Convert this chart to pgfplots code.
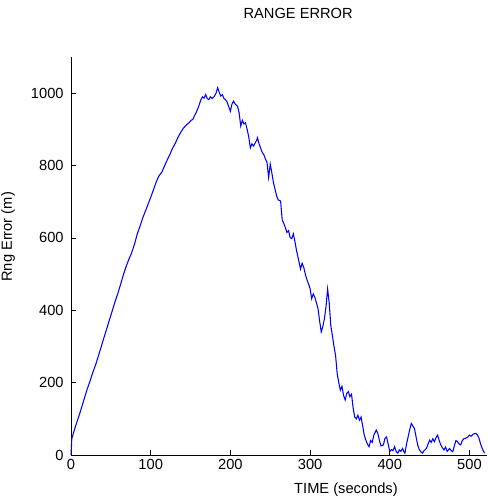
\documentclass[border=0pt]{standalone}
\usepackage{fontspec}
\setmainfont{Liberation Sans}
\usepackage{pgfplots}
\pgfplotsset{compat=1.18}

\pgfplotstableread{
t y
0 0
0.5 22
1 45
3 60
6 82
10 108
13 129
17 158
20 180
24 205
27 226
31 250
34 271
38 300
41 322
45 350
48 372
52 400
55 422
59 448
62 470
66 500
69 520
73 543
76 558
80 585
83 610
87 635
90 655
93 672
96 689
100 712
103 730
107 755
110 770
114 782
117 797
120 812
124 830
127 846
131 862
134 877
138 893
141 903
145 913
148 918
151 925
153 928
155 938
157 946
160 962
163 982
165 990
167 986
169 996
171 985
173 982
175 990
177 985
180 992
182 1000
184 1015
186 1002
188 992
190 996
192 985
194 982
196 975
198 962
200 950
202 970
204 978
206 970
209 964
211 945
213 909
215 925
217 915
219 918
221 900
223 880
225 849
227 860
229 854
231 862
233 870
234 877
236 860
238 848
240 836
242 830
244 818
246 808
248 767
250 804
252 780
254 753
256 735
258 716
260 705
263 702
265 650
267 640
269 628
271 615
273 620
275 601
277 598
279 611
281 590
283 565
285 545
288 514
290 530
292 519
294 500
296 485
298 473
300 460
302 432
304 445
306 436
308 420
310 404
312 370
314 340
316 355
318 377
320 410
322 459
324 420
326 358
328 330
330 300
332 275
334 225
336 200
338 179
340 190
342 165
344 152
346 170
348 175
350 161
352 168
354 130
356 105
358 100
360 110
362 96
364 105
366 80
368 55
370 41
372 30
374 23
376 40
378 35
380 55
383 69
385 60
387 40
389 25
392 28
394 46
396 50
398 30
400 9
402 15
404 12
406 23
408 10
410 5
412 14
414 10
416 18
418 8
419 5
421 30
423 50
425 70
427 87
429 80
431 73
433 50
435 28
437 15
439 9
441 5
443 12
446 18
448 30
450 41
452 35
454 45
456 37
458 48
460 55
462 40
464 28
466 20
468 14
470 22
472 10
475 18
477 12
479 9
481 25
483 40
485 37
487 30
489 28
491 40
493 45
495 46
498 50
500 55
502 52
505 58
508 60
510 55
512 46
514 30
516 18
518 9
519 5
}\rangeerr

\begin{document}
\begin{tikzpicture}
\begin{axis}[
  scale only axis,
  width=312pt, height=298.5pt,
  xmin=0, xmax=522, ymin=0, ymax=1100,
  axis lines=left,
  axis line style={-, line width=0.6pt},
  tick align=inside,
  major tick length=3.5pt,
  tick style={black, line width=0.6pt},
  xtick={0,100,...,500},
  ytick={0,200,...,1000},
  font=\fontsize{11}{13}\selectfont,
  ticklabel style={font=\fontsize{11}{13}\selectfont},
  /pgf/number format/assume math mode=true,
  /pgf/number format/1000 sep={},
  yticklabel style={xshift=-2pt},
  title={RANGE ERROR},
  title style={at={(axis description cs:0.546,1)}, anchor=center, yshift=27pt},
  xlabel={TIME (seconds)},
  xlabel style={at={(axis description cs:0.661,0)}, anchor=center, yshift=-26.25pt},
  clip=false,
]
\addplot[blue, line width=0.8pt] table[x=t, y=y] {\rangeerr};
\node[rotate=90, anchor=center, font=\fontsize{11}{13}\selectfont]
  at (rel axis cs:-0.1514,0.548) {Rng Error (m)};
\coordinate (O) at (rel axis cs:0,0);
\end{axis}
\pgfresetboundingbox
\path (O) ++(-53.25pt,-33pt) rectangle ++(365.25pt,374.25pt);
\end{tikzpicture}
\end{document}
